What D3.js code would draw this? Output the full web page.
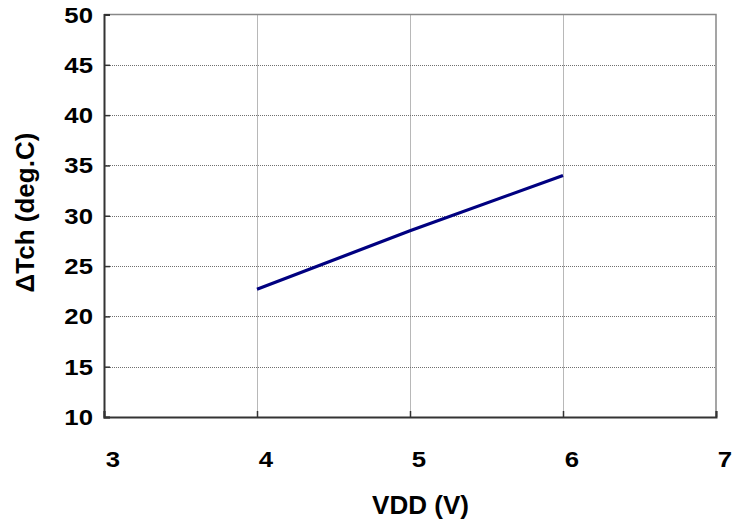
<!DOCTYPE html>
<html><head><meta charset="utf-8">
<script src="https://cdn.jsdelivr.net/npm/d3@7"></script>
<style>body{margin:0;background:#fff}svg{display:block}</style>
</head><body>
<svg id="c" width="734" height="524"></svg>
<script>
const vdd = [4, 5, 6];
const dTch = [22.7, 28.5, 34.0];
const xTicks = [3, 4, 5, 6, 7];
const yTicks = [10, 15, 20, 25, 30, 35, 40, 45, 50];
const xTitle = "VDD (V)";
const yTitle = "ΔTch (deg.C)";

const svg = d3.select("#c");
const L = 104, R = 716, T = 14.5, B = 417;
const x = d3.scaleLinear().domain([3, 7]).range([L, R]);
const y = d3.scaleLinear().domain([10, 50]).range([B, T]);
const font = "'Liberation Sans', Arial, sans-serif";
const px = v => Math.round(v) + 0.5;

// gridlines
svg.append("g").selectAll("line").data(yTicks.filter(d => d > 10 && d < 50)).join("line")
  .attr("x1", L).attr("x2", R).attr("y1", d => px(y(d))).attr("y2", d => px(y(d)))
  .attr("stroke", "#707070").attr("stroke-width", 1).attr("stroke-dasharray", "1,1");
svg.append("g").selectAll("line").data(xTicks.filter(d => d > 3 && d < 7)).join("line")
  .attr("y1", T).attr("y2", B).attr("x1", d => px(x(d))).attr("x2", d => px(x(d)))
  .attr("stroke", "#707070").attr("stroke-width", 1).attr("stroke-dasharray", "1,1");

// top and right border
svg.append("path").attr("d", `M${L},${T}H${R}V${B}`).attr("fill", "none")
  .attr("stroke", "#888").attr("stroke-width", 1.5);

// axes (inward ticks)
const yAxis = d3.axisRight(y).tickValues(yTicks).tickSize(6).tickFormat("");
const gy = svg.append("g").attr("transform", `translate(${L},0)`).call(yAxis);
const xAxis = d3.axisTop(x).tickValues(xTicks).tickSize(6).tickFormat("");
const gx = svg.append("g").attr("transform", `translate(0,${B})`).call(xAxis);
[gy, gx].forEach(g => {
  g.select(".domain").attr("stroke", "#333").attr("stroke-width", 2);
  g.selectAll(".tick line").attr("stroke", "#333").attr("stroke-width", 1.5);
});

// tick labels
svg.append("g").selectAll("text").data(yTicks).join("text")
  .attr("transform", d => `translate(93,${y(d) + 8}) scale(1.12,1)`)
  .attr("text-anchor", "end").attr("font-family", font).attr("font-weight", "bold")
  .attr("font-size", 23).text(d => d);
svg.append("g").selectAll("text").data(xTicks).join("text")
  .attr("transform", d => `translate(${x(d) + 9},467) scale(1.12,1)`)
  .attr("text-anchor", "middle").attr("font-family", font).attr("font-weight", "bold")
  .attr("font-size", 23).text(d => d);

// titles
svg.append("text").attr("x", 420.5).attr("y", 514).attr("text-anchor", "middle")
  .attr("font-family", font).attr("font-weight", "bold").attr("font-size", 26).text(xTitle);
svg.append("text").attr("transform", "translate(34,212.5) rotate(-90)").attr("text-anchor", "middle")
  .attr("font-family", font).attr("font-weight", "bold").attr("font-size", 26).text(yTitle);

// data line
const line = d3.line().x((d, i) => x(vdd[i])).y(d => y(d));
svg.append("path").datum(dTch).attr("d", line).attr("fill", "none")
  .attr("stroke", "#000080").attr("stroke-width", 3.2);
</script>
</body></html>
